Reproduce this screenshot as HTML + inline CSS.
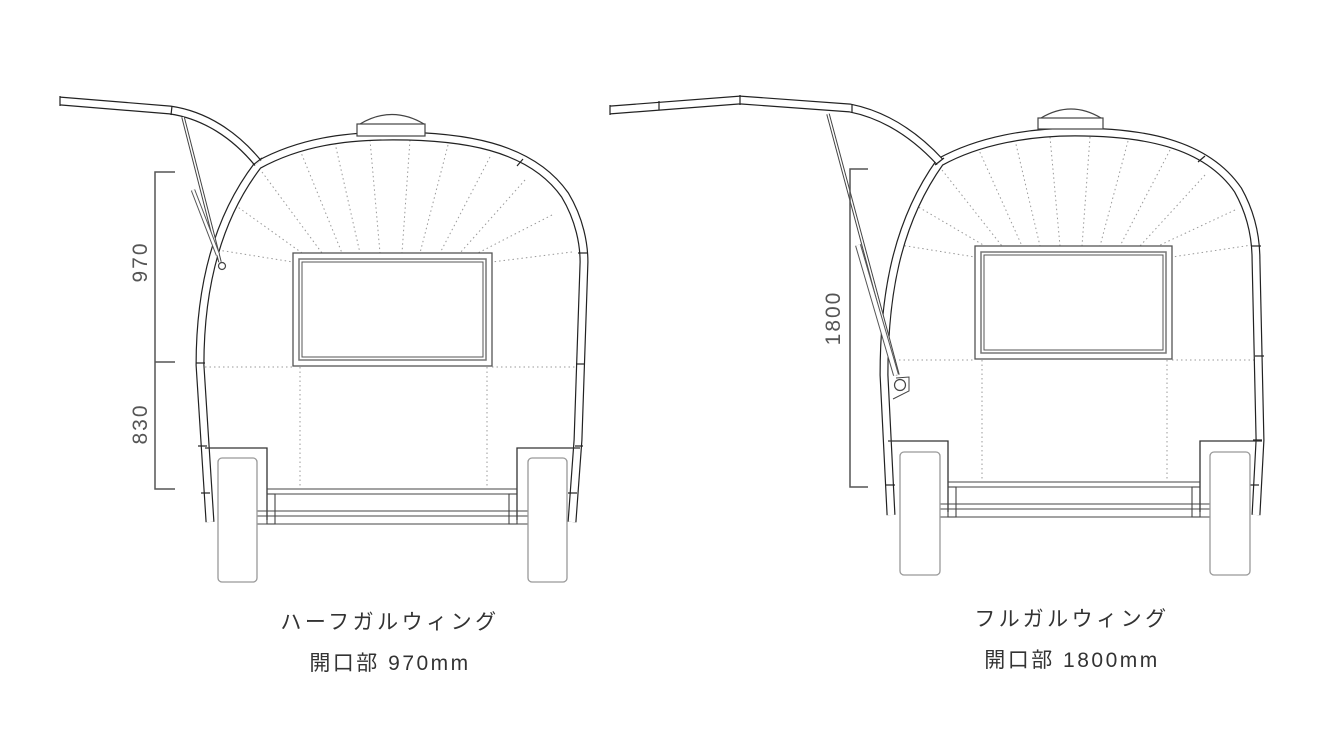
<!DOCTYPE html>
<html><head><meta charset="utf-8"><style>
html,body{margin:0;padding:0;background:#fff;}
svg{display:block;}
text{font-family:"Liberation Sans","Noto Sans CJK JP",sans-serif;fill:#333;}
</style></head><body>
<svg width="1330" height="747" viewBox="0 0 1330 747" xmlns="http://www.w3.org/2000/svg">

<!-- ===== LEFT TRAILER ===== -->
<g fill="none" stroke-linecap="butt">
  <g stroke="#999" stroke-width="1" stroke-dasharray="1.5,3">
    <line x1="205" y1="367" x2="293" y2="367"/><line x1="492" y1="367" x2="580" y2="367"/>
    <line x1="300" y1="367" x2="300" y2="489"/><line x1="487" y1="367" x2="487" y2="489"/>
    <line x1="218" y1="250" x2="293" y2="262"/>
    <line x1="235" y1="205" x2="302" y2="253"/>
    <line x1="262" y1="172" x2="322" y2="253"/>
    <line x1="300" y1="150" x2="342" y2="253"/>
    <line x1="335" y1="143" x2="360" y2="253"/>
    <line x1="370" y1="140" x2="380" y2="253"/>
    <line x1="410" y1="140" x2="402" y2="253"/>
    <line x1="448" y1="145" x2="420" y2="253"/>
    <line x1="490" y1="157" x2="440" y2="253"/>
    <line x1="525" y1="180" x2="460" y2="253"/>
    <line x1="552" y1="215" x2="478" y2="253"/>
    <line x1="572" y1="252" x2="492" y2="262"/>
  </g>
  <path d="M210,522 L200,365 C200,300 212,225 258,165 C300,142 345,136 393,136 C460,136 530,145 565,195 C580,220 584,245 584,262 L578,440 L572,522" stroke="#222" stroke-width="9"/>
  <path d="M210,522 L200,365 C200,300 212,225 258,165 C300,142 345,136 393,136 C460,136 530,145 565,195 C580,220 584,245 584,262 L578,440 L572,522" stroke="#fff" stroke-width="6.6"/>
  <path d="M60,101 L170,110 C205,115 235,135 258,163" stroke="#222" stroke-width="9"/>
  <path d="M60,101 L170,110 C205,115 235,135 258,163" stroke="#fff" stroke-width="6.6"/>
  <g stroke="#222" stroke-width="1.2">
    <line x1="60" y1="96" x2="60" y2="106"/><line x1="172" y1="106" x2="171" y2="115"/>
    <line x1="253" y1="165" x2="262" y2="158"/><line x1="517" y1="166" x2="523" y2="159"/>
    <line x1="196" y1="363" x2="205" y2="363"/><line x1="576" y1="364" x2="585" y2="364"/>
    <line x1="198" y1="446" x2="207" y2="446"/><line x1="575" y1="446" x2="583" y2="446"/>
    <line x1="201" y1="493" x2="210" y2="493"/><line x1="568" y1="493" x2="577" y2="493"/>
    <line x1="578" y1="253" x2="587" y2="253"/>
  </g>
  <line x1="183" y1="117" x2="220" y2="262" stroke="#444" stroke-width="3.5"/>
  <line x1="183" y1="117" x2="220" y2="262" stroke="#fff" stroke-width="1.5"/>
  <line x1="193" y1="190" x2="218" y2="255" stroke="#555" stroke-width="4.5"/>
  <line x1="193" y1="190" x2="218" y2="255" stroke="#fff" stroke-width="2.5"/>
  <circle cx="222" cy="266" r="3.5" stroke="#444" stroke-width="1.2" fill="#fff"/>
  <path d="M360,124 Q392,105 424,124" stroke="#444" stroke-width="1.2" fill="#fff"/>
  <rect x="357" y="124" width="68" height="12" stroke="#444" stroke-width="1.2" fill="#fff"/>
  <rect x="293" y="253" width="199" height="113" stroke="#555" stroke-width="1.3"/>
  <rect x="299" y="259" width="187" height="101" stroke="#777" stroke-width="1.5"/>
  <rect x="302" y="262" width="181" height="95" stroke="#555" stroke-width="1"/>
  <polyline points="205,448 267,448 267,520" stroke="#333" stroke-width="1.3"/>
  <polyline points="580,448 517,448 517,520" stroke="#333" stroke-width="1.3"/>
  <g stroke="#444" stroke-width="1.1">
    <line x1="267" y1="489" x2="517" y2="489"/><line x1="267" y1="494" x2="517" y2="494"/>
    <line x1="256" y1="511" x2="528" y2="511"/><line x1="256" y1="516" x2="528" y2="516"/>
    <line x1="256" y1="524" x2="528" y2="524"/>
    <rect x="267" y="494" width="8" height="30"/><rect x="509" y="494" width="8" height="30"/>
  </g>
  <rect x="218" y="458" width="39" height="124" rx="4" stroke="#999" stroke-width="1.3" fill="#fff"/>
  <rect x="528" y="458" width="39" height="124" rx="4" stroke="#999" stroke-width="1.3" fill="#fff"/>
  <polyline points="175,172 155,172 155,489 175,489" stroke="#555" stroke-width="1.5"/>
  <line x1="155" y1="362" x2="175" y2="362" stroke="#555" stroke-width="1.5"/>
</g>
<text transform="translate(147,262) rotate(-90)" font-size="21" text-anchor="middle" style="fill:#555;letter-spacing:2px">970</text>
<text transform="translate(147,424) rotate(-90)" font-size="21" text-anchor="middle" style="fill:#555;letter-spacing:2px">830</text>

<!-- ===== RIGHT TRAILER ===== -->
<g fill="none">
  <g stroke="#999" stroke-width="1" stroke-dasharray="1.5,3">
    <line x1="890" y1="360" x2="975" y2="360"/><line x1="1172" y1="360" x2="1260" y2="360"/>
    <line x1="982" y1="360" x2="982" y2="482"/><line x1="1167" y1="360" x2="1167" y2="482"/>
    <line x1="900" y1="245" x2="975" y2="257"/>
    <line x1="915" y1="205" x2="985" y2="246"/>
    <line x1="942" y1="170" x2="1002" y2="246"/>
    <line x1="978" y1="148" x2="1022" y2="246"/>
    <line x1="1015" y1="140" x2="1040" y2="246"/>
    <line x1="1050" y1="137" x2="1060" y2="246"/>
    <line x1="1090" y1="137" x2="1082" y2="246"/>
    <line x1="1128" y1="141" x2="1100" y2="246"/>
    <line x1="1170" y1="150" x2="1120" y2="246"/>
    <line x1="1205" y1="175" x2="1140" y2="246"/>
    <line x1="1235" y1="210" x2="1158" y2="246"/>
    <line x1="1252" y1="245" x2="1172" y2="257"/>
  </g>
  <path d="M891,515 L884,375 C884,300 895,225 940,162 C980,140 1030,132 1075,132 C1140,132 1205,142 1238,190 C1252,215 1256,240 1256,260 L1260,440 L1256,515" stroke="#222" stroke-width="9"/>
  <path d="M891,515 L884,375 C884,300 895,225 940,162 C980,140 1030,132 1075,132 C1140,132 1205,142 1238,190 C1252,215 1256,240 1256,260 L1260,440 L1256,515" stroke="#fff" stroke-width="6.6"/>
  <path d="M610,110 L740,100 L850,108 C885,115 915,135 940,162" stroke="#222" stroke-width="9"/>
  <path d="M610,110 L740,100 L850,108 C885,115 915,135 940,162" stroke="#fff" stroke-width="6.6"/>
  <g stroke="#222" stroke-width="1.2">
    <line x1="610" y1="105" x2="610" y2="115"/><line x1="659" y1="101" x2="659" y2="110"/>
    <line x1="740" y1="95" x2="740" y2="105"/><line x1="852" y1="104" x2="852" y2="113"/>
    <line x1="935" y1="165" x2="944" y2="158"/><line x1="1198" y1="162" x2="1205" y2="156"/>
    <line x1="1252" y1="246" x2="1261" y2="246"/><line x1="1255" y1="356" x2="1264" y2="356"/>
    <line x1="1253" y1="440" x2="1262" y2="440"/><line x1="1250" y1="485" x2="1259" y2="485"/>
    <line x1="886" y1="485" x2="895" y2="485"/>
  </g>
  <line x1="828" y1="114" x2="898" y2="375" stroke="#444" stroke-width="3.5"/>
  <line x1="828" y1="114" x2="898" y2="375" stroke="#fff" stroke-width="1.5"/>
  <line x1="858" y1="245" x2="896" y2="375" stroke="#555" stroke-width="6"/>
  <line x1="858" y1="245" x2="896" y2="375" stroke="#fff" stroke-width="4"/>
  <circle cx="900" cy="385" r="5.5" stroke="#444" stroke-width="1.2" fill="#fff"/>
  <polyline points="896,378 909,377 909,391 893,399" stroke="#444" stroke-width="1"/>
  <path d="M1041,118 Q1071,100 1101,118" stroke="#444" stroke-width="1.2" fill="#fff"/>
  <rect x="1038" y="118" width="65" height="11" stroke="#444" stroke-width="1.2" fill="#fff"/>
  <rect x="975" y="246" width="197" height="113" stroke="#555" stroke-width="1.3"/>
  <rect x="981" y="252" width="185" height="101" stroke="#777" stroke-width="1.5"/>
  <rect x="984" y="255" width="179" height="95" stroke="#555" stroke-width="1"/>
  <polyline points="888,441 948,441 948,512" stroke="#333" stroke-width="1.3"/>
  <polyline points="1262,441 1200,441 1200,512" stroke="#333" stroke-width="1.3"/>
  <g stroke="#444" stroke-width="1.1">
    <line x1="948" y1="482" x2="1200" y2="482"/><line x1="948" y1="487" x2="1200" y2="487"/>
    <line x1="940" y1="504" x2="1210" y2="504"/><line x1="940" y1="509" x2="1210" y2="509"/>
    <line x1="940" y1="517" x2="1210" y2="517"/>
    <rect x="948" y="487" width="8" height="30"/><rect x="1192" y="487" width="8" height="30"/>
  </g>
  <rect x="900" y="452" width="40" height="123" rx="4" stroke="#999" stroke-width="1.3" fill="#fff"/>
  <rect x="1210" y="452" width="40" height="123" rx="4" stroke="#999" stroke-width="1.3" fill="#fff"/>
  <polyline points="868,169 850,169 850,487 868,487" stroke="#555" stroke-width="1.5"/>
</g>
<text transform="translate(840,318) rotate(-90)" font-size="21" text-anchor="middle" style="fill:#555;letter-spacing:2px">1800</text>

<text x="390" y="629" font-size="21" text-anchor="middle" style="letter-spacing:3.5px">ハーフガルウィング</text>
<text x="390" y="670" font-size="21" text-anchor="middle" style="letter-spacing:2.5px">開口部 970mm</text>
<text x="1072" y="626" font-size="21" text-anchor="middle" style="letter-spacing:3.5px">フルガルウィング</text>
<text x="1072" y="667" font-size="21" text-anchor="middle" style="letter-spacing:2.5px">開口部 1800mm</text>
</svg>
</body></html>
